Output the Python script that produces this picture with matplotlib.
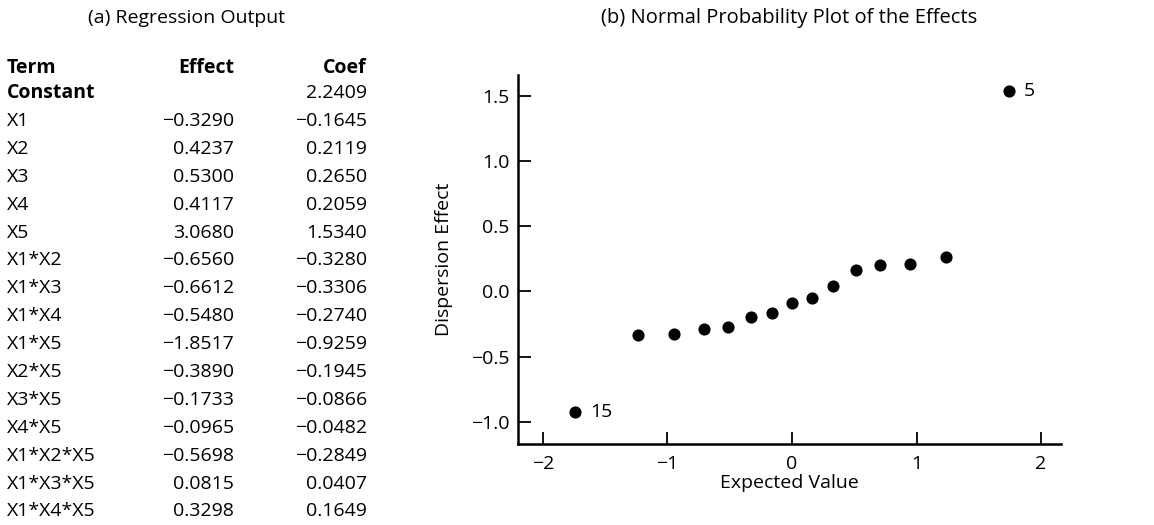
import matplotlib
matplotlib.use("Agg")
import matplotlib.pyplot as plt

# Regression output table
terms = ["Constant", "X1", "X2", "X3", "X4", "X5", "X1*X2", "X1*X3", "X1*X4",
         "X1*X5", "X2*X5", "X3*X5", "X4*X5", "X1*X2*X5", "X1*X3*X5", "X1*X4*X5"]
effects = ["", "\u22120.3290", "0.4237", "0.5300", "0.4117", "3.0680", "\u22120.6560",
           "\u22120.6612", "\u22120.5480", "\u22121.8517", "\u22120.3890", "\u22120.1733",
           "\u22120.0965", "\u22120.5698", "0.0815", "0.3298"]
coefs = ["2.2409", "\u22120.1645", "0.2119", "0.2650", "0.2059", "1.5340", "\u22120.3280",
         "\u22120.3306", "\u22120.2740", "\u22120.9259", "\u22120.1945", "\u22120.0866",
         "\u22120.0482", "\u22120.2849", "0.0407", "0.1649"]

# Normal probability plot
expected = [-1.74, -1.24, -0.95, -0.71, -0.51, -0.33, -0.16, 0.0,
            0.16, 0.33, 0.51, 0.71, 0.95, 1.24, 1.74]
dispersion = [-0.9259, -0.3306, -0.3280, -0.2849, -0.2740, -0.1945, -0.1645, -0.0866,
              -0.0482, 0.0407, 0.1649, 0.2059, 0.2119, 0.2650, 1.5340]
point_labels = {0: "15", 14: "5"}

plt.rcParams['font.family'] = ['Open Sans', 'DejaVu Sans']
plt.rcParams['font.size'] = 14

W, H = 1154, 525
fig = plt.figure(figsize=(W / 100, H / 100), dpi=100)


def fx(px):
    return px / W


def fy(py):
    return 1 - py / H


# ---- (a) table ----
fig.text(fx(187), fy(18), "(a) Regression Output", ha='center', va='center', fontsize=14)

x_term, x_eff, x_coef = 7, 234, 367
head_base, row_base, step = 73, 98, 27.9
fig.text(fx(x_term), fy(head_base), "Term", ha='left', va='baseline', fontweight='bold')
fig.text(fx(x_eff), fy(head_base), "Effect", ha='right', va='baseline', fontweight='bold')
fig.text(fx(x_coef), fy(head_base), "Coef", ha='right', va='baseline', fontweight='bold')
for i, (t, e, c) in enumerate(zip(terms, effects, coefs)):
    yy = fy(row_base + step * i)
    fig.text(fx(x_term), yy, t, ha='left', va='baseline',
             fontweight='bold' if t == "Constant" else 'normal')
    fig.text(fx(x_eff), yy, e, ha='right', va='baseline')
    fig.text(fx(x_coef), yy, c, ha='right', va='baseline')

# ---- (b) normal probability plot ----
fig.text(fx(789), fy(18), "(b) Normal Probability Plot of the Effects", ha='center',
         va='center', fontsize=14.5)

ax = fig.add_axes([fx(518), fy(444), fx(1061 - 518), (444 - 75) / H])
ax.scatter(expected, dispersion, s=60, color='black', zorder=3)
for idx, lab in point_labels.items():
    ax.annotate(lab, (expected[idx], dispersion[idx]), xytext=(10.5, 0),
                textcoords='offset points', va='center', ha='left', fontsize=14)

ax.set_xlim(-2.2, 2.16)
ax.set_ylim(-1.17, 1.66)
ax.set_xticks([-2, -1, 0, 1, 2])
ax.set_xticklabels(["\u22122", "\u22121", "0", "1", "2"])
ax.set_yticks([-1.0, -0.5, 0.0, 0.5, 1.0, 1.5])
ax.set_yticklabels(["\u22121.0", "\u22120.5", "0.0", "0.5", "1.0", "1.5"])
ax.tick_params(direction='in', length=9, width=1.3, pad=6)
ax.tick_params(axis='x', pad=8)
for s in ['top', 'right']:
    ax.spines[s].set_visible(False)
for s in ['left', 'bottom']:
    ax.spines[s].set_linewidth(1.8)
ax.set_xlabel("Expected Value", labelpad=1)
ax.set_ylabel("Dispersion Effect", labelpad=13)

fig.savefig("out.png", dpi=100)
